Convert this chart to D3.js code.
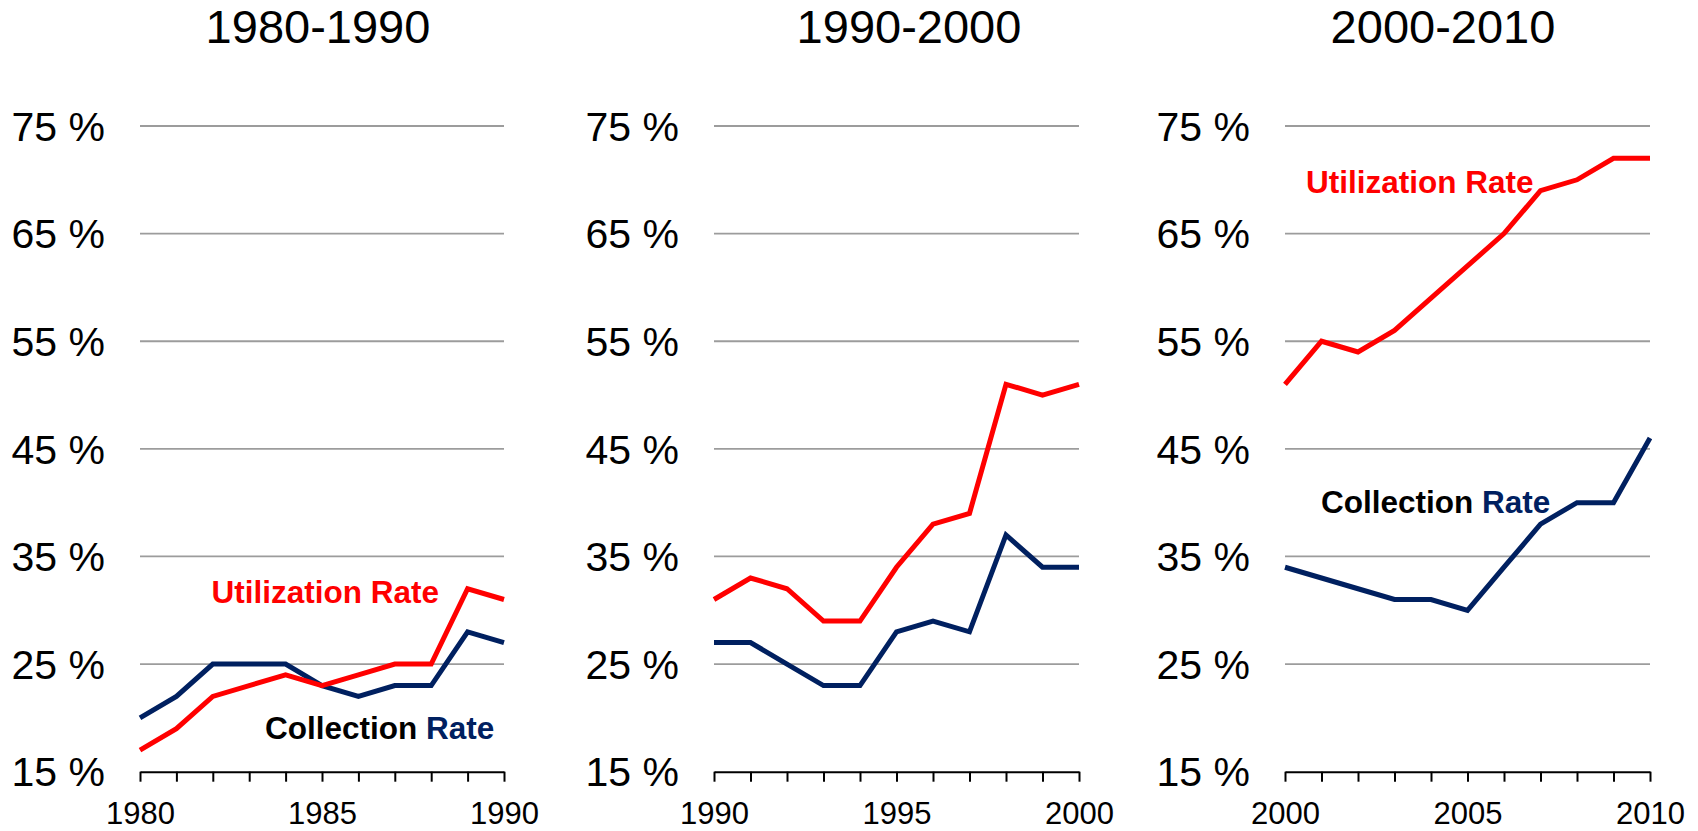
<!DOCTYPE html>
<html>
<head>
<meta charset="utf-8">
<script src="https://cdn.jsdelivr.net/npm/d3@7"></script>
<style>
  body { margin: 0; background: #fff; }
  svg { display: block; font-family: "Liberation Sans", Arial, sans-serif; }
</style>
</head>
<body>
<svg width="1698" height="831"></svg>
<script>
// Data
const titles = ['1980-1990', '1990-2000', '2000-2010'];

const years80 = [1980, 1981, 1982, 1983, 1984, 1985, 1986, 1987, 1988, 1989, 1990];
const years90 = [1990, 1991, 1992, 1993, 1994, 1995, 1996, 1997, 1998, 1999, 2000];
const years00 = [2000, 2001, 2002, 2003, 2004, 2005, 2006, 2007, 2008, 2009, 2010];

const collection80  = [20, 22, 25, 25, 25, 23, 22, 23, 23, 28, 27];
const utilization80 = [17, 19, 22, 23, 24, 23, 24, 25, 25, 32, 31];
const collection90  = [27, 27, 25, 23, 23, 28, 29, 28, 37, 34, 34];
const utilization90 = [31, 33, 32, 29, 29, 34, 38, 39, 51, 50, 51];
const collection00  = [34, 33, 32, 31, 31, 30, 34, 38, 40, 40, 46];
const utilization00 = [51, 55, 54, 56, 59, 62, 65, 69, 70, 72, 72];

const yTicks = [15, 25, 35, 45, 55, 65, 75];

const colors = { utilization: '#ff0000', collection: '#002060' };

// Layout
const panels = [
  { years: years80, utilization: utilization80, collection: collection80,
    x0: 140, x1: 504, titleX: 318,
    labels: { utilization: [211.5, 603], collection: [265, 739] } },
  { years: years90, utilization: utilization90, collection: collection90,
    x0: 714, x1: 1079, titleX: 909, labels: null },
  { years: years00, utilization: utilization00, collection: collection00,
    x0: 1285, x1: 1650, titleX: 1443,
    labels: { utilization: [1306, 193], collection: [1321, 512.5] } }
];

const yTop = 126, yBottom = 771.7;

const svg = d3.select('svg');

let y = d3.scaleLinear().domain([15, 75]).range([yBottom, yTop]);

panels.forEach((p, i) => {
  let g = svg.append('g').attr('class', 'panel');

  let x = d3.scaleLinear()
    .domain([p.years[0], p.years[p.years.length - 1]])
    .range([p.x0, p.x1]);

  // title
  g.append('text')
    .attr('x', p.titleX)
    .attr('y', 43)
    .attr('text-anchor', 'middle')
    .attr('font-size', 47)
    .attr('fill', '#000')
    .text(titles[i]);

  // gridlines
  g.append('g')
    .selectAll('line')
    .data(yTicks.filter(d => d > 15))
    .join('line')
      .attr('x1', p.x0)
      .attr('x2', p.x1)
      .attr('y1', d => y(d))
      .attr('y2', d => y(d))
      .attr('stroke', '#9c9c9c')
      .attr('stroke-width', 1.8);

  // y labels
  g.append('g')
    .selectAll('text')
    .data(yTicks)
    .join('text')
      .attr('x', p.x0 - 35)
      .attr('y', d => y(d))
      .attr('dy', '0.36em')
      .attr('text-anchor', 'end')
      .attr('font-size', 41)
      .attr('fill', '#000')
      .text(d => d + ' %');

  // x axis
  let xAxis = d3.axisBottom(x)
    .tickValues(p.years)
    .tickSizeInner(10)
    .tickSizeOuter(0)
    .tickPadding(20)
    .tickFormat(d => (d % 5 === 0 ? d : ''));

  let ax = g.append('g')
    .attr('transform', `translate(0, ${yBottom})`)
    .call(xAxis);

  ax.select('.domain').attr('stroke', '#000').attr('stroke-width', 2);
  ax.selectAll('.tick line').attr('stroke', '#000').attr('stroke-width', 2);
  ax.selectAll('.tick text')
    .attr('font-size', 31)
    .attr('font-family', '"Liberation Sans", Arial, sans-serif')
    .attr('fill', '#000');

  // lines
  let line = d3.line()
    .x((d, j) => x(p.years[j]))
    .y(d => y(d));

  ['collection', 'utilization'].forEach(key => {
    g.append('path')
      .datum(p[key])
      .attr('d', line)
      .attr('fill', 'none')
      .attr('stroke', colors[key])
      .attr('stroke-width', 5)
      .attr('stroke-linejoin', 'miter');
  });

  // series labels
  if (p.labels) {
    g.append('text')
      .attr('x', p.labels.utilization[0])
      .attr('y', p.labels.utilization[1])
      .attr('font-size', 31.5)
      .attr('font-weight', 'bold')
      .attr('fill', colors.utilization)
      .text('Utilization Rate');

    let t = g.append('text')
      .attr('x', p.labels.collection[0])
      .attr('y', p.labels.collection[1])
      .attr('font-size', 31.5)
      .attr('font-weight', 'bold');
    t.append('tspan').attr('fill', '#000').text('Collection ');
    t.append('tspan').attr('fill', colors.collection).text('Rate');
  }
});
</script>
</body>
</html>
